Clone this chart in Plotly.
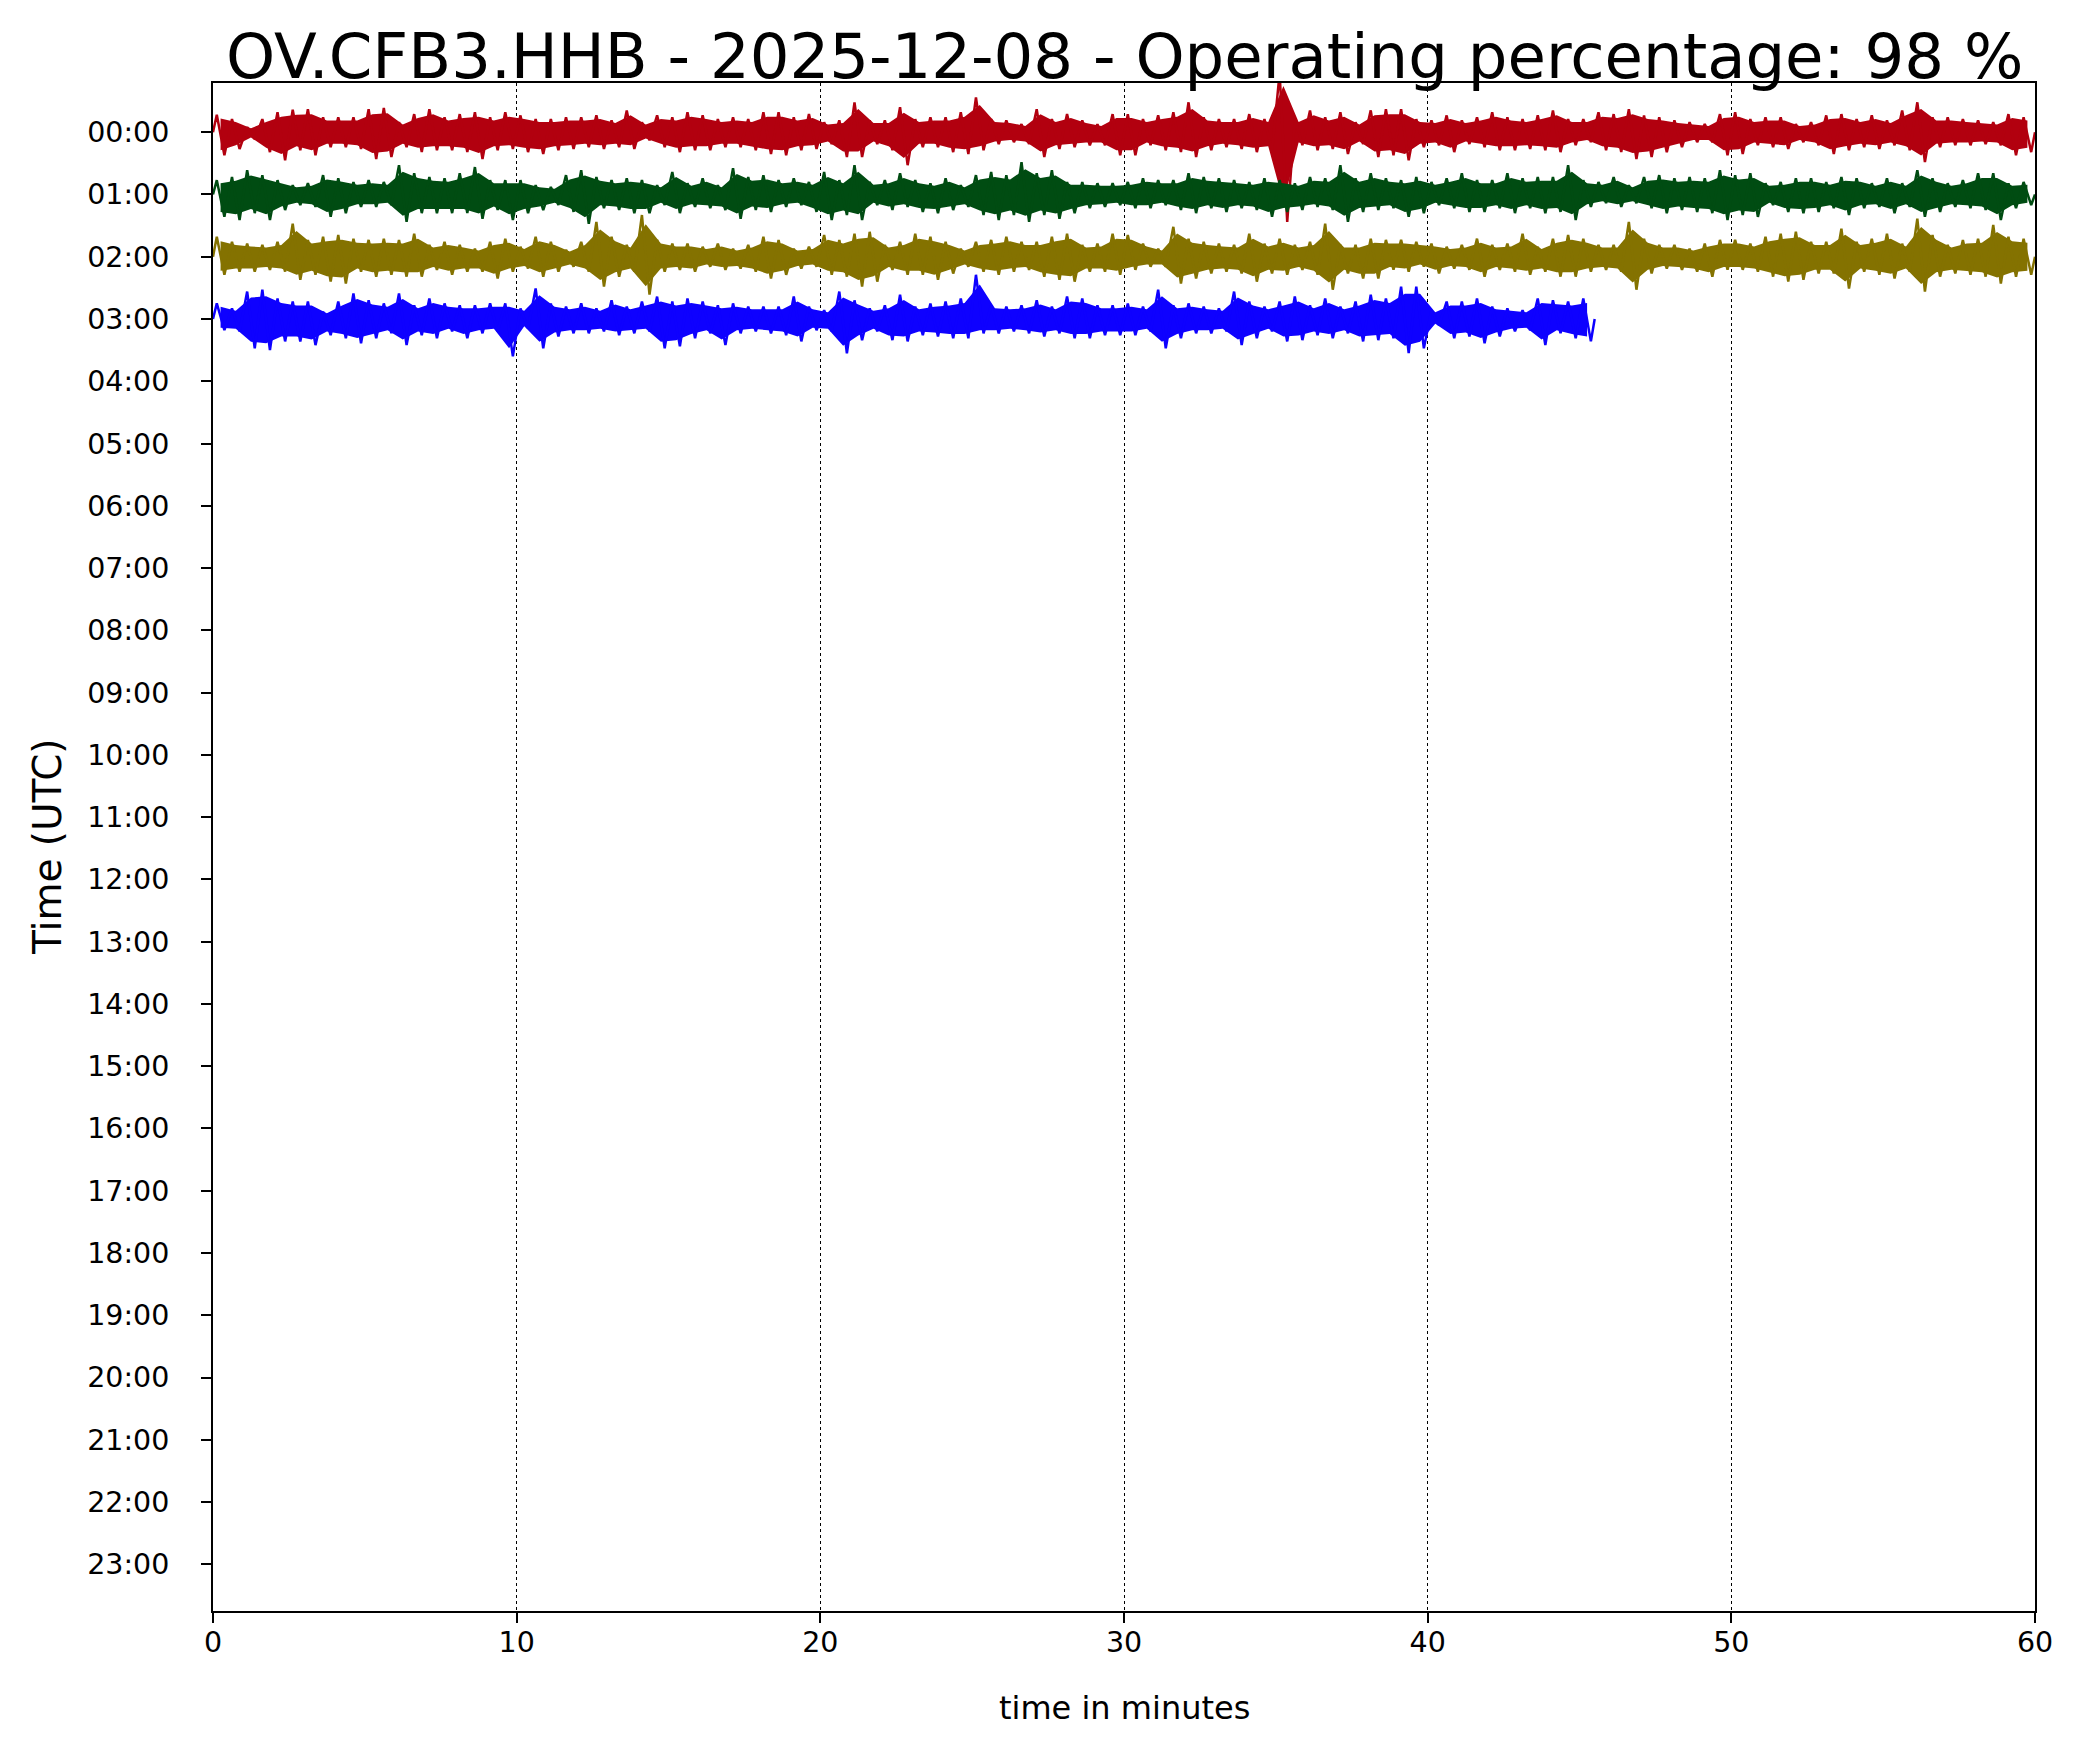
import plotly.graph_objects as go

# ---- tick labels / categories ----
hour_labels = ["%02d:00" % h for h in range(24)]
minute_ticks = [0, 10, 20, 30, 40, 50, 60]
bin_minutes = 0.5  # each amplitude value below covers half a minute

# ---- trace colours (one per hourly line) ----
line_colors = ["#B2000F", "#004C12", "#847200", "#0E01FF"]

# ---- peak deflections, in 1/100 of the row spacing ----
# hour 00:00
h00_up = [28,21,8,21,32,36,37,24,24,24,37,39,16,29,37,24,29,32,24,32,
          27,21,21,24,24,27,19,35,16,27,24,32,27,21,24,21,32,32,24,29,
          16,19,48,19,19,40,21,24,24,32,56,21,19,13,37,21,29,19,13,29,
          29,21,27,32,48,24,21,21,29,21,95,21,35,24,32,16,35,37,37,21,
          19,27,19,24,32,24,21,27,35,21,21,32,29,37,27,24,19,16,13,29,
          32,21,24,24,13,16,27,29,21,27,19,35,48,24,24,21,19,16,29,24]
h00_down = [37,27,11,32,45,29,37,24,24,27,43,40,24,32,29,29,32,43,29,27,
            32,35,29,27,24,27,24,27,13,24,32,29,29,24,24,29,35,37,29,27,
            19,40,40,19,29,53,24,24,32,35,29,19,16,19,40,27,24,21,21,37,
            37,21,29,32,40,29,24,27,32,29,144,21,29,27,35,19,40,37,45,24,
            21,32,19,24,29,29,27,29,32,21,16,29,32,43,40,32,24,16,16,37,
            35,21,24,27,16,21,35,29,24,27,21,29,48,24,21,21,19,21,37,32]
# hour 01:00
h01_up = [23,28,39,31,23,15,18,31,26,20,23,20,47,34,28,26,34,44,23,23,
          23,15,12,31,39,28,23,26,23,15,36,18,26,15,42,28,31,23,26,20,
          36,23,47,20,23,34,23,18,26,15,31,36,31,52,34,39,20,20,18,18,
          20,26,23,23,34,28,26,23,20,26,23,18,28,26,47,26,34,26,23,28,
          20,26,34,23,23,34,26,28,28,47,23,20,28,15,28,31,26,28,26,39,
          31,34,18,20,26,26,20,28,26,18,26,18,39,26,18,23,34,34,18,20]
h01_down = [36,41,30,41,25,17,20,36,30,20,20,17,44,30,30,30,30,39,25,41,
            30,25,17,28,47,22,25,30,30,17,30,20,22,25,39,25,28,20,17,28,
            41,33,41,17,25,20,28,30,25,20,33,41,33,44,33,39,30,22,20,17,
            22,22,17,25,30,22,28,22,25,36,28,25,20,25,44,28,25,22,36,30,
            17,22,28,28,22,30,22,30,28,41,20,14,20,14,22,30,25,28,30,41,
            33,36,17,28,30,28,22,33,22,20,30,20,36,28,20,22,25,41,22,17]
# hour 02:00
h02_up = [32,24,21,19,24,53,27,32,35,29,27,29,27,37,19,24,19,13,24,29,
          16,32,24,11,24,56,32,19,67,27,21,21,16,21,13,19,32,27,13,16,
          35,27,37,40,19,24,37,32,24,13,24,27,32,24,24,32,37,19,21,37,
          35,21,13,48,29,24,21,19,37,21,29,19,24,53,19,19,29,27,27,24,
          21,16,19,29,19,21,37,16,29,35,29,19,19,56,29,19,19,13,21,27,
          27,21,32,37,40,24,24,45,24,29,37,21,61,35,19,27,29,51,32,29]
h02_down = [29,24,24,21,24,37,29,40,43,24,32,29,32,32,21,29,24,24,35,24,
            19,32,24,16,24,48,32,24,61,24,21,24,16,21,19,24,35,29,19,16,
            29,32,48,40,21,29,29,37,27,16,24,29,24,21,32,37,40,24,24,29,
            21,16,16,43,35,27,24,27,40,27,29,21,29,53,27,35,35,21,24,16,
            27,19,21,32,21,24,29,24,32,32,24,21,24,53,27,19,21,24,32,21,
            21,24,32,40,37,27,27,51,24,29,35,24,56,32,27,29,32,43,32,29]
# hour 03:00 (data stops at 45.5 min)
h03_up = [25,17,44,47,33,28,28,12,28,41,30,25,41,22,33,25,22,22,25,25,
          17,49,25,20,25,17,30,20,28,36,28,33,28,22,25,20,20,20,36,20,
          14,44,30,17,22,39,20,25,28,33,71,22,20,22,30,20,36,33,22,22,
          25,20,47,22,25,20,17,44,28,20,28,36,22,33,20,28,39,33,52,52,
          14,28,28,33,20,17,14,33,30,28,33]
h03_down = [18,20,47,50,36,36,42,26,31,39,31,23,42,26,31,20,31,23,20,60,
            15,47,28,23,23,20,26,23,20,47,44,31,23,42,23,20,23,26,36,18,
            20,55,34,20,34,36,26,28,31,31,23,23,20,23,28,23,31,31,26,26,
            26,20,47,31,23,23,20,42,31,20,36,34,26,31,23,36,34,31,55,47,
            10,31,28,39,28,20,18,42,23,31,36]

rows = [(0, h00_up, h00_down), (1, h01_up, h01_down),
        (2, h02_up, h02_down), (3, h03_up, h03_down)]

CORE = 0.78  # share of each peak drawn as the dense body of the trace

fig = go.Figure()

for (row, up, down), color in zip(rows, line_colors):
    n = len(up)
    # dense body of the trace
    cx, cy = [], []
    for i in range(n):
        cx.append((i + 0.5) * bin_minutes)
        cy.append(row - CORE * up[i] / 100.0)
    for i in reversed(range(n)):
        cx.append((i + 0.5) * bin_minutes)
        cy.append(row + CORE * down[i] / 100.0)
    fig.add_trace(go.Scatter(x=cx, y=cy, mode="lines", fill="toself",
                             fillcolor=color, line=dict(width=0, color=color),
                             hoverinfo="skip"))
    # peak-to-peak strokes
    zx, zy = [0.0], [float(row)]
    for i in range(n):
        zx.append((i + 0.25) * bin_minutes)
        zy.append(row - up[i] / 100.0)
        zx.append((i + 0.75) * bin_minutes)
        zy.append(row + down[i] / 100.0)
    zx.append(n * bin_minutes)
    zy.append(float(row))
    fig.add_trace(go.Scatter(x=zx, y=zy, mode="lines",
                             line=dict(width=2.5, color=color)))

axis_common = dict(showline=True, linecolor="black", linewidth=2, mirror=True,
                   ticks="outside", ticklen=10, tickwidth=2, tickcolor="black",
                   zeroline=False, tickfont=dict(size=28.5, color="black"))

fig.update_xaxes(range=[0, 60], tickvals=minute_ticks, showgrid=True,
                 gridcolor="black", griddash="dot", gridwidth=1,
                 ticklabelstandoff=-5, **axis_common)
fig.update_yaxes(range=[23.75, -0.79], tickvals=list(range(24)),
                 ticktext=hour_labels, showgrid=False, ticklabelstandoff=26,
                 **axis_common)

fig.update_layout(
    width=2087, height=1755,
    margin=dict(l=213, r=52, t=83, b=144),
    plot_bgcolor="white", paper_bgcolor="white",
    showlegend=False,
    font=dict(family="DejaVu Sans", color="black"),
    annotations=[
        dict(text="OV.CFB3.HHB - 2025-12-08 - Operating percentage: 98 %",
             xref="paper", yref="paper", x=0.5, y=1, xanchor="center",
             yanchor="bottom", yshift=-12, showarrow=False,
             font=dict(size=62.5, color="black")),
        dict(text="time in minutes", xref="paper", yref="paper", x=0.5, y=0,
             xanchor="center", yanchor="middle", yshift=-97, showarrow=False,
             font=dict(size=32, color="black")),
        dict(text="Time (UTC)", xref="paper", yref="paper", x=0, y=0.5,
             xanchor="center", yanchor="middle", xshift=-166, textangle=-90,
             showarrow=False, font=dict(size=39, color="black")),
    ],
)

fig.write_html("out.html", config={"displayModeBar": False},
               post_script="document.body.style.margin='0';"
                           "document.body.style.overflow='hidden';")
